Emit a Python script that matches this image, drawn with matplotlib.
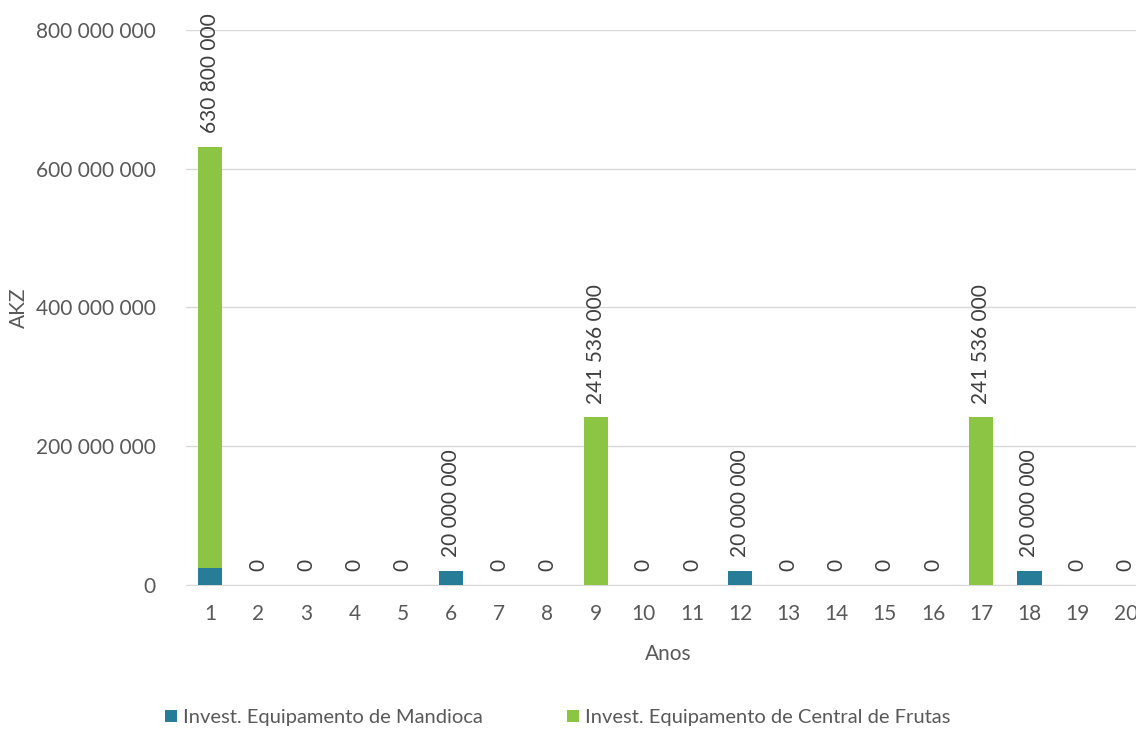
import matplotlib.pyplot as plt
import numpy as np
from matplotlib.ticker import FuncFormatter

plt.rcParams['font.family'] = ['Lato', 'DejaVu Sans']

anos = [str(i) for i in range(1, 21)]
mandioca = [25000000, 0, 0, 0, 0, 20000000, 0, 0, 0, 0, 0, 20000000, 0, 0, 0, 0, 0, 20000000, 0, 0]
frutas = [605800000, 0, 0, 0, 0, 0, 0, 0, 241536000, 0, 0, 0, 0, 0, 0, 0, 241536000, 0, 0, 0]
totais = [630800000, 0, 0, 0, 0, 20000000, 0, 0, 241536000, 0, 0, 20000000, 0, 0, 0, 0, 241536000, 20000000, 0, 0]

cor_azul = '#277C98'
cor_verde = '#8CC443'
cinza = '#595959'

def fmt(v, pos=None):
    return '{:,.0f}'.format(v).replace(',', ' ')

fig = plt.figure(figsize=(11.36, 7.36), dpi=100)
ax = fig.add_axes([0.1637, 0.2052, 0.8486, 0.7541])

x = np.arange(len(anos))
ax.bar(x, mandioca, width=0.5, color=cor_azul, label='Invest. Equipamento de Mandioca', zorder=3)
ax.bar(x, frutas, width=0.5, bottom=mandioca, color=cor_verde,
       label='Invest. Equipamento de Central de Frutas', zorder=3)

for i, t in enumerate(totais):
    ax.annotate(fmt(t), (x[i], t), xytext=(0, 10), textcoords='offset points',
                rotation=90, ha='center', va='bottom', fontsize=15, color='#404040')

ax.set_xlim(-0.5, len(anos) - 0.5)
ax.set_ylim(0, 800000000)
ax.set_yticks([0, 200000000, 400000000, 600000000, 800000000])
ax.yaxis.set_major_formatter(FuncFormatter(fmt))
ax.set_xticks(x)
ax.set_xticklabels(anos)
ax.grid(axis='y', color='#D9D9D9', linewidth=1, zorder=0)
for s in ['top', 'right', 'left']:
    ax.spines[s].set_visible(False)
ax.spines['bottom'].set_color('#D9D9D9')
ax.tick_params(axis='both', length=0, labelsize=15, colors=cinza)
ax.tick_params(axis='x', pad=14)
ax.tick_params(axis='y', pad=22)

ax.set_xlabel('Anos', fontsize=15, color=cinza, labelpad=14)
ax.set_ylabel('AKZ', fontsize=15, color=cinza, labelpad=5)

fig.legend(loc='center', bbox_to_anchor=(0.491, 0.025), ncol=2, frameon=False,
           fontsize=14.5, labelcolor=cinza, handlelength=0.6, handleheight=0.6,
           handletextpad=0.3, columnspacing=4.2)

fig.savefig('out.png', dpi=100)
